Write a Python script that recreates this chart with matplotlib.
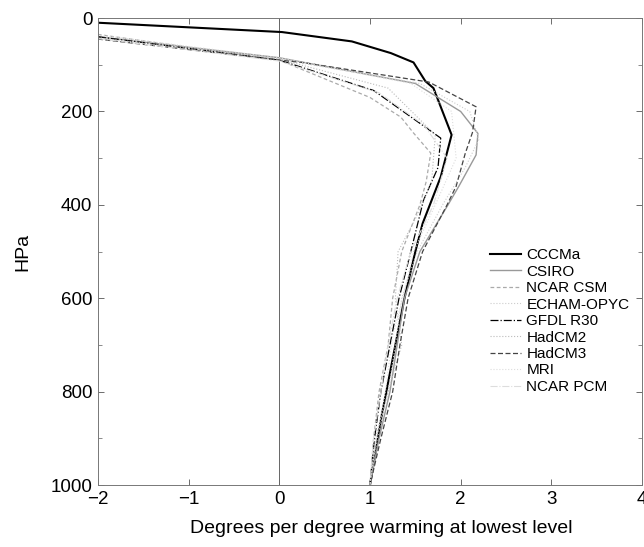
import numpy as np
import matplotlib
matplotlib.use("Agg")
import matplotlib.pyplot as plt

plt.rcParams['font.family'] = ['Liberation Sans', 'DejaVu Sans']

# model profiles: pressure (hPa) and warming ratio
cccma_p = [10, 30, 50, 75, 95, 135, 150, 250, 340, 440, 500, 600, 700, 850, 1000]
cccma_x = [-2.0, 0.03, 0.8, 1.23, 1.48, 1.61, 1.70, 1.90, 1.78, 1.58, 1.50, 1.38, 1.28, 1.13, 1.0]

csiro_p = [40, 85, 140, 200, 247, 293, 360, 400, 500, 600, 700, 800, 900, 1000]
csiro_x = [-2.0, 0.0, 1.5, 2.0, 2.19, 2.17, 1.98, 1.86, 1.55, 1.38, 1.30, 1.22, 1.10, 1.0]

ncarcsm_p = [35, 90, 170, 212, 246, 289, 350, 400, 500, 600, 700, 800, 900, 1000]
ncarcsm_x = [-2.0, 0.0, 1.0, 1.34, 1.48, 1.67, 1.62, 1.55, 1.35, 1.25, 1.20, 1.10, 1.04, 1.0]

echam_p = [38, 88, 140, 200, 260, 320, 400, 500, 600, 700, 800, 900, 1000]
echam_x = [-2.0, 0.0, 1.55, 2.1, 2.2, 2.05, 1.8, 1.52, 1.35, 1.28, 1.2, 1.08, 1.0]

gfdl_p = [40, 90, 155, 257, 320, 390, 500, 600, 700, 800, 900, 1000]
gfdl_x = [-2.0, 0.0, 1.04, 1.78, 1.75, 1.59, 1.45, 1.32, 1.22, 1.12, 1.05, 1.0]

hadcm2_p = [42, 88, 150, 250, 350, 430, 500, 600, 700, 800, 900, 1000]
hadcm2_x = [-2.0, 0.0, 1.2, 1.72, 1.68, 1.5, 1.31, 1.28, 1.35, 1.2, 1.06, 1.0]

hadcm3_p = [45, 90, 95, 137, 190, 245, 290, 360, 400, 500, 600, 700, 800, 900, 1000]
hadcm3_x = [-2.0, 0.0, 0.25, 1.65, 2.17, 2.13, 2.05, 1.95, 1.85, 1.58, 1.42, 1.33, 1.25, 1.12, 1.0]

mri_p = [36, 85, 140, 200, 300, 400, 500, 600, 680, 800, 900, 1000]
mri_x = [-2.0, 0.0, 1.45, 1.9, 1.95, 1.72, 1.48, 1.36, 1.25, 1.17, 1.07, 1.0]

ncarpcm_p = [44, 92, 160, 230, 300, 400, 500, 600, 700, 800, 900, 1000]
ncarpcm_x = [-2.0, 0.0, 1.1, 1.6, 1.85, 1.7, 1.45, 1.3, 1.2, 1.12, 1.04, 1.0]

fig = plt.figure(figsize=(6.44, 5.47), dpi=100)
ax = fig.add_axes([0.152, 0.113, 0.845, 0.854])

ax.axvline(0, color='#666666', lw=0.7)

ax.plot(cccma_x, cccma_p, color='black', lw=1.5, ls='-', label='CCCMa')
ax.plot(csiro_x, csiro_p, color='#999999', lw=1.0, ls='-', label='CSIRO')
ax.plot(ncarcsm_x, ncarcsm_p, color='#aaaaaa', lw=0.9, ls=(0, (3, 2)), label='NCAR CSM')
ax.plot(echam_x, echam_p, color='#cccccc', lw=0.8, ls=':', label='ECHAM-OPYC')
ax.plot(gfdl_x, gfdl_p, color='black', lw=0.9, ls='-.', label='GFDL R30')
ax.plot(hadcm2_x, hadcm2_p, color='#bbbbbb', lw=0.8, ls=':', label='HadCM2')
ax.plot(hadcm3_x, hadcm3_p, color='#444444', lw=0.9, ls=(0, (4, 2)), label='HadCM3')
ax.plot(mri_x, mri_p, color='#dddddd', lw=0.8, ls=':', label='MRI')
ax.plot(ncarpcm_x, ncarpcm_p, color='#dddddd', lw=0.8, ls='-.', label='NCAR PCM')

ax.set_xlim(-2, 4)
ax.set_ylim(1000, 0)
ax.set_xticks([-2, -1, 0, 1, 2, 3, 4])
ax.set_xticklabels(['\u22122', '\u22121', '0', '1', '2', '3', '4'])
ax.set_yticks([0, 200, 400, 600, 800, 1000])
ax.set_yticks(np.arange(100, 1000, 200), minor=True)
ax.tick_params(direction='in', top=True, right=True, labelsize=13.5, length=4, width=0.6,
               color='#555555', pad=4)
ax.tick_params(which='minor', direction='in', right=True, length=3, width=0.6, color='#777777')
ax.set_xlabel('Degrees per degree warming at lowest level', fontsize=14, labelpad=8)
ax.xaxis.set_label_coords(0.52, -0.075)
ax.set_ylabel('HPa', fontsize=14, labelpad=14)

for s in ax.spines.values():
    s.set_linewidth(0.7)
    s.set_color('#777777')
ax.spines['top'].set_linestyle((0, (3, 1)))
ax.spines['bottom'].set_linestyle((0, (3, 1)))

ax.legend(loc='upper left', bbox_to_anchor=(0.71, 0.52), frameon=False,
          fontsize=11, handlelength=2.0, handletextpad=0.35, labelspacing=0.16,
          borderaxespad=0)

fig.savefig('out.png', dpi=100)
